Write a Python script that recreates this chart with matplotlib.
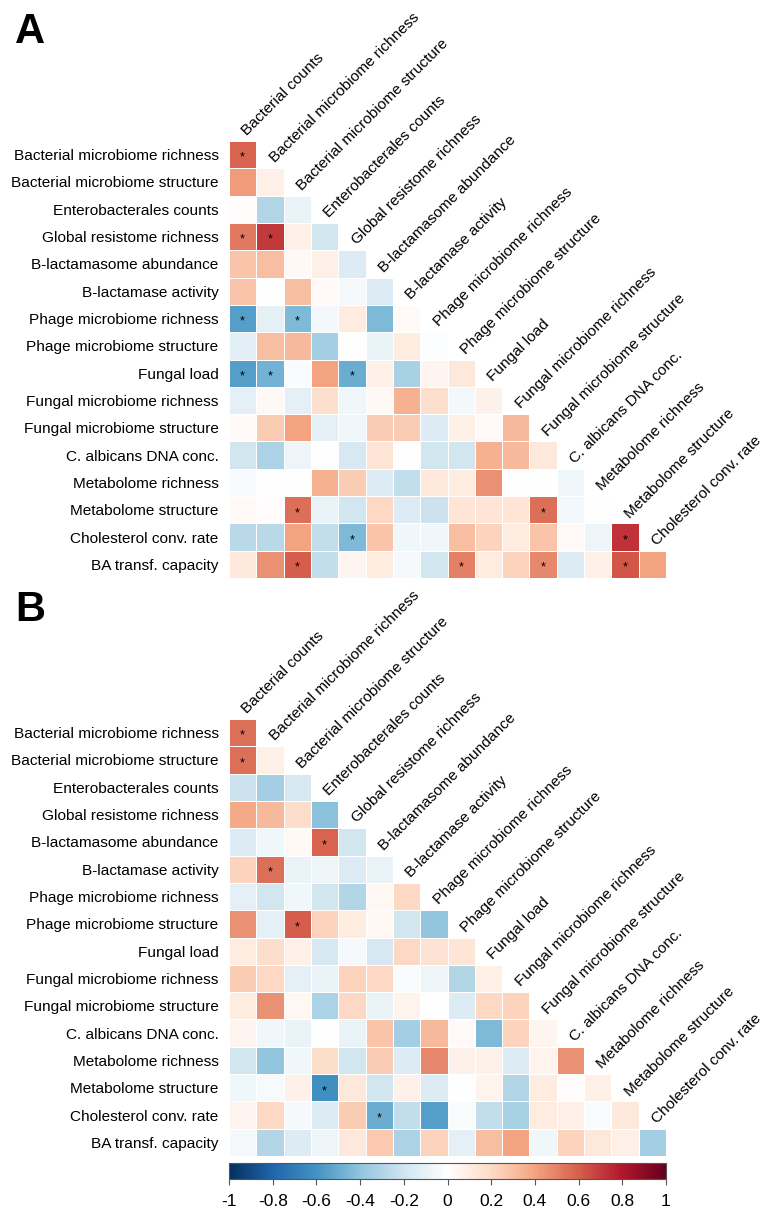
#correlation heatmaps (lower triangle) for panels A and B
import numpy as np
import matplotlib
matplotlib.use('Agg')
import matplotlib.pyplot as plt
from matplotlib.colors import LinearSegmentedColormap

plt.rcParams['font.family'] = ['Liberation Sans', 'DejaVu Sans']

row_labels = ["Bacterial microbiome richness", "Bacterial microbiome structure", "Enterobacterales counts",
              "Global resistome richness", "B-lactamasome abundance", "B-lactamase activity",
              "Phage microbiome richness", "Phage microbiome structure", "Fungal load",
              "Fungal microbiome richness", "Fungal microbiome structure", "C. albicans DNA conc.",
              "Metabolome richness", "Metabolome structure", "Cholesterol conv. rate", "BA transf. capacity"]
col_labels = ["Bacterial counts"] + row_labels[:-1]

#lower triangle, row r has r+1 values
corr_a = [
    [0.58],
    [0.42, 0.08],
    [0.01, -0.30, -0.10],
    [0.52, 0.70, 0.08, -0.20],
    [0.28, 0.30, 0.03, 0.08, -0.15],
    [0.28, 0.00, 0.30, 0.02, -0.05, -0.15],
    [-0.55, -0.12, -0.45, -0.06, 0.10, -0.45, 0.02],
    [-0.13, 0.30, 0.32, -0.35, 0.00, -0.10, 0.10, -0.02],
    [-0.55, -0.48, -0.03, 0.40, -0.50, 0.08, -0.33, 0.05, 0.12],
    [-0.12, 0.03, -0.12, 0.17, -0.07, 0.03, 0.35, 0.17, -0.06, 0.07],
    [0.02, 0.25, 0.40, -0.12, -0.07, 0.25, 0.25, -0.15, 0.08, 0.02, 0.32],
    [-0.20, -0.32, -0.08, -0.01, -0.18, 0.15, 0.00, -0.20, -0.20, 0.35, 0.32, 0.12],
    [-0.04, -0.01, 0.00, 0.35, 0.25, -0.15, -0.25, 0.12, 0.10, 0.45, 0.00, 0.00, -0.07],
    [0.02, 0.01, 0.55, -0.10, -0.20, 0.20, -0.15, -0.22, 0.15, 0.15, 0.15, 0.55, -0.06, 0.00],
    [-0.28, -0.28, 0.40, -0.25, -0.45, 0.28, -0.07, -0.07, 0.30, 0.22, 0.10, 0.28, 0.02, -0.08, 0.72],
    [0.12, 0.45, 0.60, -0.25, 0.05, 0.10, -0.05, -0.20, 0.50, 0.10, 0.22, 0.48, -0.15, 0.08, 0.62, 0.40],
]
stars_a = [(0, 0), (3, 0), (3, 1), (6, 0), (6, 2), (8, 0), (8, 1), (8, 4), (13, 2), (13, 11),
           (14, 4), (14, 14), (15, 2), (15, 8), (15, 11), (15, 14)]

corr_b = [
    [0.55],
    [0.55, 0.08],
    [-0.22, -0.35, -0.18],
    [0.38, 0.32, 0.18, -0.42],
    [-0.15, -0.07, 0.03, 0.58, -0.20],
    [0.22, 0.55, -0.10, -0.08, -0.15, -0.10],
    [-0.12, -0.20, -0.07, -0.20, -0.30, 0.04, 0.20],
    [0.45, -0.12, 0.60, 0.22, 0.10, 0.04, -0.20, -0.40],
    [0.10, 0.18, 0.08, -0.18, -0.05, -0.18, 0.20, 0.16, 0.15],
    [0.25, 0.20, -0.12, -0.10, 0.22, 0.20, -0.03, -0.08, -0.30, 0.08],
    [0.10, 0.45, 0.04, -0.32, 0.20, -0.10, 0.06, 0.00, -0.15, 0.20, 0.22],
    [0.05, -0.07, -0.10, -0.01, -0.10, 0.28, -0.35, 0.32, 0.02, -0.45, 0.22, 0.05],
    [-0.20, -0.40, -0.07, 0.18, -0.20, 0.25, -0.15, 0.48, 0.07, 0.07, -0.15, 0.06, 0.45],
    [-0.07, -0.04, 0.07, -0.62, 0.12, -0.20, 0.07, -0.15, 0.00, 0.06, -0.30, 0.10, 0.01, 0.08],
    [0.05, 0.20, -0.05, -0.15, 0.25, -0.50, -0.25, -0.55, -0.03, -0.25, -0.33, 0.10, 0.08, -0.03, 0.12],
    [-0.05, -0.30, -0.15, -0.08, 0.13, 0.26, -0.32, 0.22, -0.12, 0.30, 0.40, -0.07, 0.22, 0.12, 0.08, -0.35],
]
stars_b = [(0, 0), (1, 0), (4, 3), (5, 1), (7, 2), (13, 3), (14, 5)]

cb_ticks = [-1, -0.8, -0.6, -0.4, -0.2, 0, 0.2, 0.4, 0.6, 0.8, 1]

#corrplot palette
cols = ["#053061", "#2166AC", "#4393C3", "#92C5DE", "#D1E5F0", "#FFFFFF",
        "#FDDBC7", "#F4A582", "#D6604D", "#B2182B", "#67001F"]
cmap = LinearSegmentedColormap.from_list("corr", cols, N=200)

W, H = 763, 1213
fig = plt.figure(figsize=(W/100, H/100), dpi=100)

def to_matrix(rows):
    n = len(rows)
    m = np.full((n, n), np.nan)
    for i, r in enumerate(rows):
        m[i, :len(r)] = r
    return np.ma.masked_invalid(m)

def panel(top_px, rows, stars, letter):
    left, right, bottom = 229, 666, top_px + 437
    ax = fig.add_axes([left/W, 1 - bottom/H, (right-left)/W, 437/H])
    m = to_matrix(rows)
    n = m.shape[0]
    mesh = ax.pcolormesh(np.arange(n+1) - 0.5, np.arange(n+1) - 0.5, m, cmap=cmap, vmin=-1, vmax=1,
                         edgecolors='white', linewidth=0.4)
    ax.set_xlim(-0.5, n - 0.5)
    ax.set_ylim(n - 0.5, -0.5)
    for s in ax.spines.values():
        s.set_visible(False)
    ax.set_xticks([])
    ax.set_yticks(range(n))
    ax.set_yticklabels(row_labels, fontsize=11.1)
    ax.tick_params(axis='y', length=0, pad=7.5)
    for r, c in stars:
        ax.text(c, r + 0.12, "*", ha='center', va='center', fontsize=9, color='black')
    for j, lab in enumerate(col_labels):
        ax.text(j + 0.25, j - 0.6, lab, rotation=45, rotation_mode='anchor', ha='left', va='bottom',
                fontsize=11.1, clip_on=False)
    fig.text(15/W, 1 - (top_px - 98)/H, letter, fontsize=30, fontweight='bold', va='baseline')
    return mesh

mesh = panel(141, corr_a, stars_a, "A")
panel(719, corr_b, stars_b, "B")

cax = fig.add_axes([229/W, 1 - 1179/H, 437/W, 16/H])
cb = fig.colorbar(mesh, cax=cax, orientation='horizontal', ticks=cb_ticks)
cb.ax.set_xticklabels([f"{t:g}" for t in cb_ticks], fontsize=12.5)
cb.outline.set_edgecolor('#555555')
cb.ax.tick_params(length=4, color='#555555', pad=7)

fig.savefig('out.png', dpi=100)
